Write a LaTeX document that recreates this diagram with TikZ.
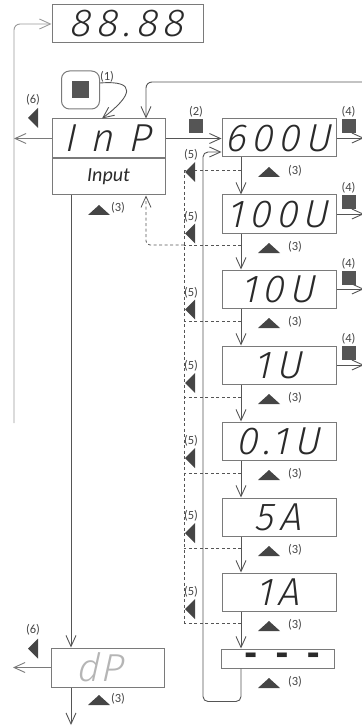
\documentclass[tikz,border=0pt]{standalone}
\usepackage{fontspec}
\setmainfont{Carlito}
\newfontfamily\segfont{Fira Sans Light Italic}[LetterSpace=14,FakeSlant=0.08]
\newfontfamily\segfontw{Fira Sans Light Italic}[LetterSpace=40,FakeSlant=0.08]
\newfontfamily\segfontn{Fira Sans Light Italic}[LetterSpace=4,FakeSlant=0.08]
\newfontfamily\dashfont{DejaVu Sans Mono}
\usetikzlibrary{arrows.meta}
\definecolor{ln}{HTML}{555555}
\definecolor{bx}{HTML}{7A7A7A}
\definecolor{dk}{HTML}{454545}
\definecolor{sg}{HTML}{2A2A2A}
\definecolor{lt}{HTML}{9A9A9A}
\definecolor{dpc}{HTML}{B5B5B5}
\newcommand\uptri[2]{\fill[dk] ({#1-11},{#2+10}) -- (#1,#2) -- ({#1+11},{#2+10}) -- cycle;}
\newcommand\lftri[2]{\fill[dk] (#1,#2) -- ({#1+10},{#2-10}) -- ({#1+10},{#2+10}) -- cycle;}
\begin{document}
\begin{tikzpicture}[x=1pt,y=-1pt,line width=0.9pt,
 disp/.style={draw=bx,line width=1pt,minimum width=114pt,minimum height=38pt,inner sep=0pt,text=sg,font=\segfont\fontsize{39}{39}\selectfont},
 arr/.style={draw=ln,-{Straight Barb[length=11pt,width=10pt]}},
 lab/.style={inner sep=0pt,text=dk,font=\fontsize{12.5}{12.5}\selectfont},
 sq/.style={fill=ln,draw=none,minimum size=14pt,inner sep=0pt},
 dsh/.style={draw=ln,line width=0.8pt,dash pattern=on 3pt off 2.5pt}]
\useasboundingbox (0,0) rectangle (361,727);
\coordinate (cx) at (241,0);
\coordinate (cd) at (71,0);
\coordinate (rx) at (364,0);
% top display
\node[disp,minimum width=151pt] (top) at (127.5,24) {88.88};
% InP
\node[disp,minimum width=113pt,minimum height=39pt,font=\segfontw\fontsize{39}{39}\selectfont] (inp) at (108.5,138.5) {InP};
\node[draw=bx,line width=1pt,minimum width=113pt,minimum height=36pt,inner sep=0pt,anchor=north,text=sg,font=\itshape\fontsize{20}{20}\selectfont] (inpl) at (inp.south) {Input};
% button
\node[draw=bx,line width=1pt,rounded corners=8pt,minimum size=38pt,inner sep=0pt] (btn) at (80.5,90) {};
\node[sq,minimum size=17pt] (btnsq) at (btn) {};
\node[lab] (l1) at (107,77) {(1)};
\draw[arr] ([yshift=7pt]btn.east) .. controls (138,80) and (132,96) .. ([xshift=-6.5pt]inp.north);
% top right return
\coordinate (tr) at (362,82);
\draw[arr,rounded corners=6pt] (tr) -| ([xshift=37.5pt]inp.north);
% left loop
\coordinate (lb) at (14,423);
\draw[arr,draw=lt,rounded corners=6pt] (lb) |- (top.west);
\coordinate (la) at (14,138.5);
\draw[arr,draw=bx] (inp.west) -- (la);
\lftri{28}{118}
\node[lab] (l6a) at (33,100) {(6)};
\uptri{99}{205}
\node[lab] (l3a) at (118,208) {(3)};
% chain
\node[disp] (b1) at (279,138) {600U};
\node[disp] (b2) at (279,214) {100U};
\node[disp] (b3) at (279,289) {10U};
\node[disp] (b4) at (279,365) {1U};
\node[disp] (b5) at (279,441) {0.1U};
\node[disp] (b6) at (279,517) {5A};
\node[disp] (b7) at (279,592) {1A};
\node[disp,minimum width=113pt,minimum height=19pt,font=\dashfont\bfseries\fontsize{32}{32}\selectfont] (b8) at (277.5,658.5) {\hspace*{9pt}\raisebox{-3.5pt}{-\kern12pt-\kern12pt-}};
\draw[arr] (inp.east) -- (inp.east -| b1.west);
\node[sq] (q2) at (196,126) {};
\node[lab] (l2) at (196,112) {(2)};
\foreach \a/\b in {b1/b2,b2/b3,b3/b4,b4/b5,b5/b6,b6/b7,b7/b8}
  \draw[arr] (\a.south -| cx) -- (\b.north -| cx);
\foreach \y in {157,233,308,384,460,536,611,668} {
  \uptri{269}{\y+10}
  \node[lab] (l3-\y) at (295,\y+14) {(3)};
}
\foreach \t/\b in {119/b1,195/b2,271/b3,346/b4} {
  \node[sq] (q4-\t) at (348.5,\t+7) {};
  \node[lab] (l4-\t) at (348.5,\t-7) {(4)};
  \draw[arr] (\b.east) -- (\b.east -| rx);
}
% dashed returns
\foreach \y in {170,245,321,397,473,548,623}
  \draw[dsh] (241,\y) -- (184,\y);
\draw[dsh] (184,170) -- (184,623);
\draw[dsh,rounded corners=4pt,-{Straight Barb[length=11pt,width=10pt]}] (184,245) -- (146,245) -- ([xshift=37.5pt]inpl.south);
\foreach \c [count=\i] in {172,233.5,309.5,383,458,533,609} {
  \lftri{185}{\c}
  \node[lab] (l5-\i) at (191,\c-17) {(5)};
}
% loop back
\draw[arr,rounded corners=5pt] (b8.south -| cx) -- ++(0,33) -| (203,152) -- ([yshift=-14pt]b1.west);
% dP
\node[disp,minimum width=113pt,minimum height=39pt,text=dpc,font=\segfontn\fontsize{39}{39}\selectfont] (dp) at (107.5,667.5) {\hspace*{-14pt}dP};
\draw[arr] (inpl.south -| cd) -- (dp.north -| cd);
\coordinate (db) at (71,725);
\draw[arr] (dp.south -| cd) -- (db);
\coordinate (dl) at (13,667.5);
\draw[arr,draw=bx] (dp.west) -- (dl);
\lftri{28}{648.5}
\node[lab] (l6b) at (33,630) {(6)};
\uptri{99}{695}
\node[lab] (l3b) at (118,699) {(3)};
\end{tikzpicture}
\end{document}
